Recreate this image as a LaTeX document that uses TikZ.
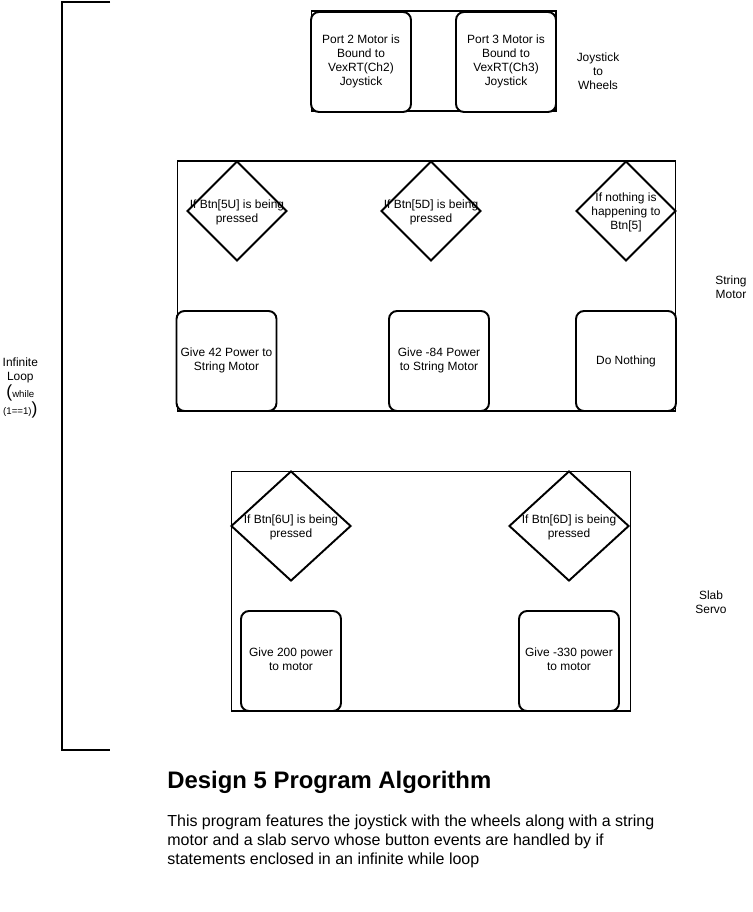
\documentclass[tikz,border=0pt]{standalone}
\usepackage{fontspec}
\setmainfont{Liberation Sans}
\usetikzlibrary{shapes.geometric}

\begin{document}
\begin{tikzpicture}[x=0.02cm, y=-0.02cm, auto, >=latex]
	\tikzstyle{group} = [draw, rectangle, line width=0.6pt, inner sep=0]
	\tikzstyle{block} = [draw, rectangle, rounded corners=1.6mm, line width=1.1pt, fill=white, minimum width=2cm, minimum height=2cm, inner sep=0, font=\fontsize{6.8}{8}\selectfont]
	\tikzstyle{decision} = [draw, diamond, line width=1.1pt, inner sep=0, minimum width=2cm, minimum height=2cm]
	\tikzstyle{note} = [font=\fontsize{6.8}{8}\selectfont, align=center, inner sep=0]

	\useasboundingbox (0,0) rectangle (752,912);

	\draw [line width=1.1pt] (110,2) -- (62,2) -- (62,750) -- (110,750);
	\node [note] (loop) at (22,388) {%
	  \begin{tabular}{@{}c@{}}
	    Infinite\\
	    Loop\\
	    {\fontsize{10}{10}\selectfont(}{\fontsize{5.5}{6}\selectfont while}\\
	    {\fontsize{5.5}{6}\selectfont (1==1)}{\fontsize{10}{10}\selectfont)}
	  \end{tabular}
	};

	\node [group, minimum width=4.9cm, minimum height=2cm] (wheels) at (433.5,61) {};
	\node [block] (port2) at (361,62) {%
	  \begin{tabular}{@{}c@{}}
	    Port 2 Motor is\\
	    Bound to\\
	    VexRT(Ch2)\\
	    Joystick
	  \end{tabular}
	};
	\node [block] (port3) at (506,62) {%
	  \begin{tabular}{@{}c@{}}
	    Port 3 Motor is\\
	    Bound to\\
	    VexRT(Ch3)\\
	    Joystick
	  \end{tabular}
	};
	\node [note] (wheels-label) at (598,71) {Joystick\\ to\\ Wheels};

	\node [group, minimum width=9.98cm, minimum height=5cm] (string) at (426.5,286) {};
	\node [decision, label={[note, yshift=-1pt]center:{If Btn[5U] is being\\ pressed}}] (up5) at (237,211) {};
	\node [decision, label={[note, yshift=-1pt]center:{If Btn[5D] is being\\ pressed}}] (down5) at (431,211) {};
	\node [decision, label={[note, yshift=-1pt]center:{If nothing is\\ happening to\\ Btn[5]}}] (none5) at (626,211) {};
	\node [block] (give42) at (226.5,361) {%
	  \begin{tabular}{@{}c@{}}
	    Give 42 Power to\\
	    String Motor
	  \end{tabular}
	};
	\node [block] (give84) at (439,361) {%
	  \begin{tabular}{@{}c@{}}
	    Give -84 Power\\
	    to String Motor
	  \end{tabular}
	};
	\node [block] (nothing) at (626,361) {Do Nothing};
	\node [note] (string-label) at (731,287) {String\\ Motor};

	\node [group, minimum width=8cm, minimum height=4.8cm] (slab) at (431,591) {};
	\node [decision, minimum width=2.4cm, minimum height=2.2cm, label={[note, yshift=-1pt]center:{If Btn[6U] is being\\ pressed}}] (up6) at (291,526) {};
	\node [decision, minimum width=2.4cm, minimum height=2.2cm, label={[note, yshift=-1pt]center:{If Btn[6D] is being\\ pressed}}] (down6) at (569,526) {};
	\node [block] (give200) at (291,661) {%
	  \begin{tabular}{@{}c@{}}
	    Give 200 power\\
	    to motor
	  \end{tabular}
	};
	\node [block] (give330) at (569,661) {%
	  \begin{tabular}{@{}c@{}}
	    Give -330 power\\
	    to motor
	  \end{tabular}
	};
	\node [note] (slab-label) at (711,602) {Slab\\ Servo};

	\node [anchor=base west, inner sep=0, font=\bfseries\fontsize{13.6}{16}\selectfont] (title) at (167,788) {Design 5 Program Algorithm};
	\node [anchor=north west, align=left, inner sep=0, font=\fontsize{9.1}{10.8}\selectfont] (desc) at (167,815) {%
	  This program features the joystick with the wheels along with a string\\
	  motor and a slab servo whose button events are handled by if\\
	  statements enclosed in an infinite while loop};
\end{tikzpicture}
\end{document}
